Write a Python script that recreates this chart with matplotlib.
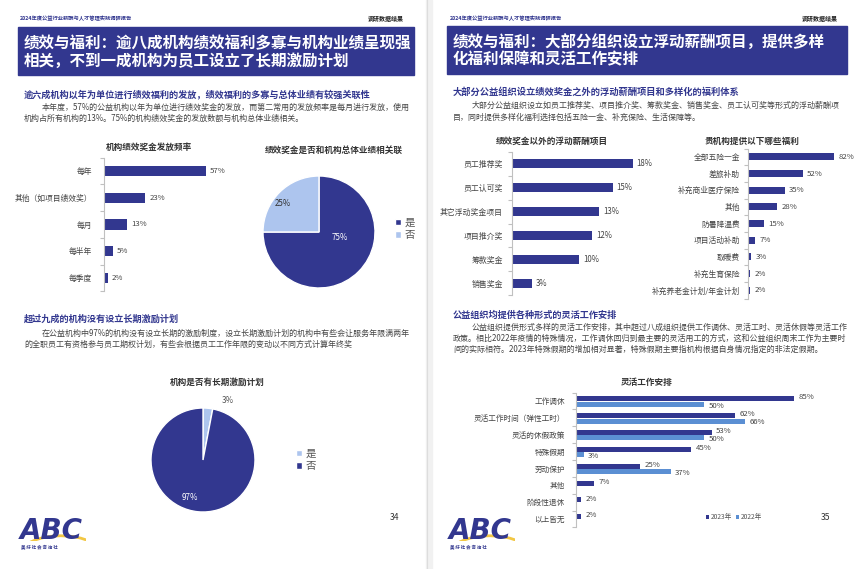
import matplotlib.pyplot as plt
from matplotlib.patches import Rectangle, Arc
from matplotlib.lines import Line2D

plt.rcParams['font.family'] = ['Noto Sans CJK SC', 'DejaVu Sans']

# ---- data ----
freq_cats = ['每年', '其他（如项目绩效奖）', '每月', '每半年', '每季度']
freq_vals = [57, 23, 13, 5, 2]

link_labels = ['是', '否']
link_vals = [75, 25]

lti_labels = ['是', '否']
lti_vals = [3, 97]

float_cats = ['员工推荐奖', '员工认可奖', '其它浮动奖金项目', '项目推介奖', '筹款奖金', '销售奖金']
float_vals = [18, 15, 13, 12, 10, 3]

welfare_cats = ['全部五险一金', '差旅补助', '补充商业医疗保险', '其他', '防暑降温费',
                '项目活动补助', '取暖费', '补充生育保险', '补充养老金计划/年金计划']
welfare_vals = [82, 52, 35, 28, 15, 7, 3, 2, 2]

flex_cats = ['工作调休', '灵活工作时间（弹性工时）', '灵活的休假政策', '特殊假期',
             '劳动保护', '其他', '阶段性退休', '以上皆无']
flex_2023 = [85, 62, 53, 45, 25, 7, 2, 2]
flex_2022 = [50, 66, 50, 3, 37, None, None, None]

NAVY = '#32378f'
LIGHT = '#adc5ee'
MID = '#5b8fd3'
GRAY = '#444444'

W, H = 867, 569
fig = plt.figure(figsize=(W / 100, H / 100), dpi=100)


def add_ax(x0, y0, x1, y1):
    return fig.add_axes([x0 / W, 1 - y1 / H, (x1 - x0) / W, (y1 - y0) / H])


def txt(x, y, s, size, **kw):
    kw.setdefault('va', 'center')
    fig.text(x / W, 1 - y / H, s, fontsize=size, **kw)


def rect(x0, y0, x1, y1, color):
    fig.patches.append(Rectangle((x0 / W, 1 - y1 / H), (x1 - x0) / W, (y1 - y0) / H,
                                 transform=fig.transFigure, color=color, zorder=0))


def hbar(box, cats, vals, xmax, height, fs, pad):
    ax = add_ax(*box)
    pos = list(range(len(cats)))
    ax.barh(pos, vals, height=height, color=NAVY)
    for p, v in zip(pos, vals):
        ax.annotate(f'{v}%', (v, p), xytext=(3, 0), textcoords='offset points',
                    va='center', fontsize=fs, color=GRAY)
    style_axis(ax, cats, xmax, fs, pad)
    return ax


def style_axis(ax, cats, xmax, fs, pad):
    n = len(cats)
    ax.set_yticks(range(n))
    ax.set_yticklabels(cats, fontsize=fs, color=GRAY)
    ax.set_yticks([i - 0.5 for i in range(n + 1)], minor=True)
    ax.tick_params(axis='y', which='major', length=0, pad=pad)
    ax.tick_params(axis='y', which='minor', length=3, color='#c0c0c0', width=0.8)
    ax.set_ylim(n - 0.5, -0.5)
    ax.set_xlim(0, xmax)
    ax.xaxis.set_visible(False)
    for s in ['top', 'right', 'bottom']:
        ax.spines[s].set_visible(False)
    ax.spines['left'].set_color('#c0c0c0')
    ax.spines['left'].set_linewidth(0.8)
    ax.patch.set_alpha(0)


def pie(box, vals, labels, colors, pct_pos, pct_colors, leg_xy):
    ax = add_ax(*box)
    wedges, _ = ax.pie(vals, colors=colors, startangle=90, counterclock=False,
                       wedgeprops=dict(edgecolor='white', linewidth=1))
    for v, (x, y), c in zip(vals, pct_pos, pct_colors):
        ax.text(x, y, f'{v}%', ha='center', va='center', fontsize=5.8, color=c)
    ax.set_xlim(-1, 1)
    ax.set_ylim(-1, 1)
    ax.set_aspect('equal')
    ax.axis('off')
    ax.legend(wedges, labels, loc='center left', frameon=False, fontsize=7.5,
              labelcolor='#555555', handlelength=0.55, handleheight=0.55,
              handletextpad=0.3, labelspacing=0.25,
              bbox_to_anchor=(leg_xy[0] / W, 1 - leg_xy[1] / H),
              bbox_transform=fig.transFigure)


def logo(x, y):
    txt(x, y, 'ABC', 20, color=NAVY, fontweight='heavy', style='italic',
        family='DejaVu Sans', va='baseline')
    ax = add_ax(x, y - 24, x + 66, y + 2)
    ax.add_patch(Arc((0.62, -0.55), 1.25, 1.5, theta1=45, theta2=150,
                     color='#f2c744', linewidth=2.0, zorder=5))
    ax.set_xlim(0, 1)
    ax.set_ylim(0, 1)
    ax.axis('off')
    txt(x + 1, y + 8, '美 好 社 会 咨 询 社', 3.2, color=NAVY, fontweight='bold')


# ---- page frame ----
rect(426, 0, 432, H, '#f1f1f1')
fig.add_artist(Line2D([427 / W, 427 / W], [0, 1], color='#dddddd', lw=0.8))

# ---- left page ----
txt(20, 18, '2024年度公益行业薪酬与人才管理实践调研报告', 3.8, color=NAVY, fontweight='bold')
txt(404, 18, '调研数据结果', 4.3, color='#222222', fontweight='bold', ha='right')
rect(18, 27, 414, 75, NAVY)
txt(24, 43, '绩效与福利：逾八成机构绩效福利多寡与机构业绩呈现强', 11.2, color='white', fontweight='bold')
txt(24, 61, '相关，不到一成机构为员工设立了长期激励计划', 11.2, color='white', fontweight='bold')

txt(24, 94, '逾六成机构以年为单位进行绩效福利的发放，绩效福利的多寡与总体业绩有较强关联性',
    6.6, color=NAVY, fontweight='bold')
txt(42, 107, '本年度，57%的公益机构以年为单位进行绩效奖金的发放，而第二常用的发放频率是每月进行发放，使用',
    5.75, color=GRAY)
txt(24, 118, '机构占所有机构的13%。75%的机构绩效奖金的发放数额与机构总体业绩相关。', 5.75, color=GRAY)

txt(149, 147, '机构绩效奖金发放频率', 6.2, color='#333333', fontweight='bold', ha='center')
hbar((104, 157.6, 244, 291.4), freq_cats, freq_vals, 140 / 1.79, 0.38, 5.6, 8.5)

txt(334, 150, '绩效奖金是否和机构总体业绩相关联', 6.2, color='#333333', fontweight='bold', ha='center')
pie((263, 176, 375, 288), link_vals, link_labels, [NAVY, LIGHT],
    [(0.38, -0.09), (-0.64, 0.5)], ['white', '#333333'], (386, 229))

txt(24, 319, '超过九成的机构没有设立长期激励计划', 6.6, color=NAVY, fontweight='bold')
txt(42, 333, '在公益机构中97%的机构没有设立长期的激励制度，设立长期激励计划的机构中有些会让服务年限满两年',
    5.75, color=GRAY)
txt(24, 344, '的全职员工有资格参与员工期权计划，有些会根据员工工作年限的变动以不同方式计算年终奖', 5.75, color=GRAY)

txt(217, 382, '机构是否有长期激励计划', 6.2, color='#333333', fontweight='bold', ha='center')
pie((151, 408, 255, 512), lti_vals, lti_labels, [LIGHT, NAVY],
    [(0.48, 1.15), (-0.25, -0.73)], ['#555555', 'white'], (287, 460))

txt(395, 517, '34', 6.2, color='#333333', ha='center')
logo(20, 539)

# ---- right page ----
txt(450, 18, '2024年度公益行业薪酬与人才管理实践调研报告', 3.8, color=NAVY, fontweight='bold')
txt(838, 18, '调研数据结果', 4.3, color='#222222', fontweight='bold', ha='right')
rect(447, 26, 847, 74, NAVY)
txt(453, 42, '绩效与福利：大部分组织设立浮动薪酬项目，提供多样', 11.2, color='white', fontweight='bold')
txt(453, 59, '化福利保障和灵活工作安排', 11.2, color='white', fontweight='bold')

txt(453, 92, '大部分公益组织设立绩效奖金之外的浮动薪酬项目和多样化的福利体系',
    6.7, color=NAVY, fontweight='bold')
txt(472, 105, '大部分公益组织设立如员工推荐奖、项目推介奖、筹款奖金、销售奖金、员工认可奖等形式的浮动薪酬项',
    5.75, color=GRAY)
txt(453, 117, '目，同时提供多样化福利选择包括五险一金、补充保险、生活保障等。', 5.75, color=GRAY)

txt(552, 141, '绩效奖金以外的浮动薪酬项目', 6.2, color='#333333', fontweight='bold', ha='center')
hbar((512, 152, 672, 295), float_cats, float_vals, 160 / 6.7, 0.38, 5.7, 6.5)

txt(752, 141, '贵机构提供以下哪些福利', 6.2, color='#333333', fontweight='bold', ha='center')
hbar((748, 148.5, 848, 298.5), welfare_cats, welfare_vals, 100 / 1.05, 0.42, 5.6, 5.8)

txt(453, 315, '公益组织均提供各种形式的灵活工作安排', 6.6, color=NAVY, fontweight='bold')
txt(472, 327, '公益组织提供形式多样的灵活工作安排，其中超过八成组织提供工作调休、灵活工时、灵活休假等灵活工作',
    5.75, color=GRAY)
txt(453, 338, '政策。相比2022年疫情的特殊情况，工作调休回归到最主要的灵活用工的方式，这和公益组织周末工作为主要时',
    5.75, color=GRAY)
txt(453, 349, '间的实际相符。2023年特殊假期的增加相对显著，特殊假期主要指机构根据自身情况指定的非法定假期。',
    5.75, color=GRAY)

txt(647, 382, '灵活工作安排', 6.2, color='#333333', fontweight='bold', ha='center')
ax5 = add_ax(576, 392.6, 826, 527.4)
pos = list(range(len(flex_cats)))
p23 = [p - 0.13 for p in pos]
p22 = [p + 0.19 for p in pos]
v22 = [v if v is not None else 0 for v in flex_2022]
ax5.barh(p23, flex_2023, height=0.3, color=NAVY, label='2023年')
ax5.barh(p22, v22, height=0.3, color=MID, label='2022年')
for p, v in zip(p23, flex_2023):
    ax5.annotate(f'{v}%', (v, p), xytext=(3, 1), textcoords='offset points',
                 va='center', fontsize=5.6, color=GRAY)
for p, v in zip(p22, flex_2022):
    if v is not None:
        ax5.annotate(f'{v}%', (v, p), xytext=(3, -1), textcoords='offset points',
                     va='center', fontsize=5.6, color=GRAY)
style_axis(ax5, flex_cats, 250 / 2.565, 5.5, 8)
ax5.legend(loc='center left', frameon=False, fontsize=4.8, labelcolor='#555555',
           ncol=2, handlelength=0.5, handleheight=0.5, handletextpad=0.2,
           columnspacing=0.6, bbox_to_anchor=(700 / W, 1 - 517 / H),
           bbox_transform=fig.transFigure)

txt(826, 518, '35', 6.2, color='#333333', ha='center')
logo(449, 539)

fig.savefig('out.png', dpi=100)
